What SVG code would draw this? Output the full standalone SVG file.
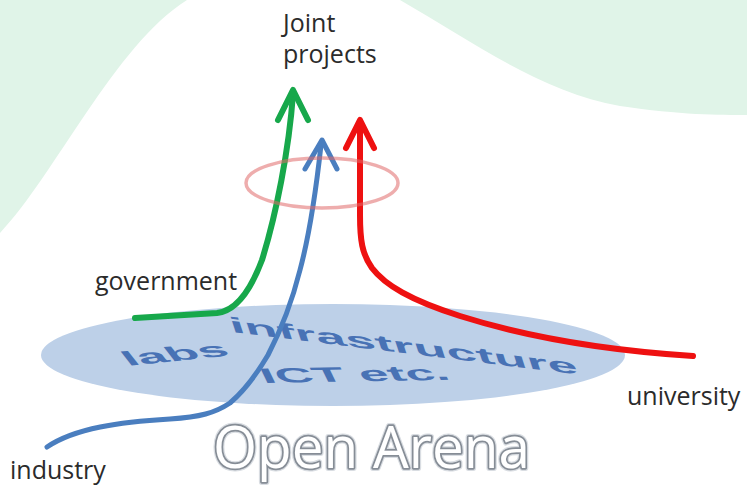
<svg xmlns="http://www.w3.org/2000/svg" width="747" height="488" viewBox="0 0 747 488">
<style>
.lbl{font-family:"Open Sans","Noto Sans","Liberation Sans",sans-serif;font-size:25px;fill:#2b2b2b}
.plane{font-family:"Liberation Sans",Arial,sans-serif;font-weight:bold;font-size:52px;fill:#3462ad;opacity:.85}
.arrow{fill:none;stroke-linecap:round;stroke-linejoin:round}
.arena{font-family:"Open Sans","Noto Sans",sans-serif;font-size:58px}
</style>
<g id="background">
<rect x="0" y="0" width="747" height="488" fill="#e0f4e8"/>
<path d="M0,233 C55,175 115,45 187,0 L400,0 C470,40 540,92 620,106 C680,115 720,115 747,115 L747,488 L0,488 Z" fill="#ffffff"/>
</g>
<g id="open-arena-plane">
<ellipse cx="333" cy="355" rx="292" ry="51" fill="#bdd0e8"/>
<text class="plane" transform="translate(232,332) rotate(7) skewX(25) scale(1,0.4)" textLength="350" lengthAdjust="spacingAndGlyphs">infrastructure</text>
<text class="plane" transform="translate(128,366) rotate(-6) skewX(32) scale(1,0.4)">labs</text>
<text class="plane" transform="translate(264,383) rotate(-1) skewX(25) scale(1,0.4)">ICT etc.</text>
</g>
<g id="connectors">
<g id="government-arrow" stroke="#17a84b" stroke-width="6" class="arrow">
<path d="M135,318 L217,313 C235,311 250,292 262,260 C276,215 289,150 293,94"/>
<path d="M278,120 L293,90 L308,120"/>
</g>
<g id="industry-arrow" stroke="#4a7ebf" stroke-width="5" class="arrow">
<path d="M47,447 C75,428 120,422 170,419 C200,417 215,413 230,403 C245,390 258,372 268,355 C282,328 293,298 300,270 C308,240 315,200 321,145"/>
<path d="M305,169 L322,140 L337,169"/>
</g>
<g id="university-arrow" stroke="#ee1111" stroke-width="6" class="arrow">
<path d="M693,356 C600,350 520,335 460,316 C410,300 385,285 372,268 C362,254 360,240 360,215 L360,122"/>
<path d="M346,148 L360,120 L374,148"/>
</g>
</g>
<g id="focus-ring">
<ellipse cx="322" cy="183" rx="76" ry="25" fill="none" stroke="#e06a6a" stroke-opacity="0.55" stroke-width="3.5"/>
</g>
<g id="joint-projects">
<text class="lbl" x="283" y="32">Joint</text>
<text class="lbl" x="283" y="63">projects</text>
</g>
<g id="government"><text class="lbl" x="95" y="290">government</text></g>
<g id="university"><text class="lbl" x="627" y="405">university</text></g>
<g id="industry"><text class="lbl" x="10" y="479">industry</text></g>
<g id="open-arena">
<text class="arena" x="213" y="468" textLength="317" lengthAdjust="spacingAndGlyphs" fill="none" stroke="#d9dde2" stroke-width="6" stroke-linejoin="round">Open Arena</text>
<text class="arena" x="213" y="468" textLength="317" lengthAdjust="spacingAndGlyphs" fill="none" stroke="#868d96" stroke-width="3.5" stroke-linejoin="round">Open Arena</text>
<text class="arena" x="213" y="468" textLength="317" lengthAdjust="spacingAndGlyphs" fill="#ffffff">Open Arena</text>
</g>
</svg>
